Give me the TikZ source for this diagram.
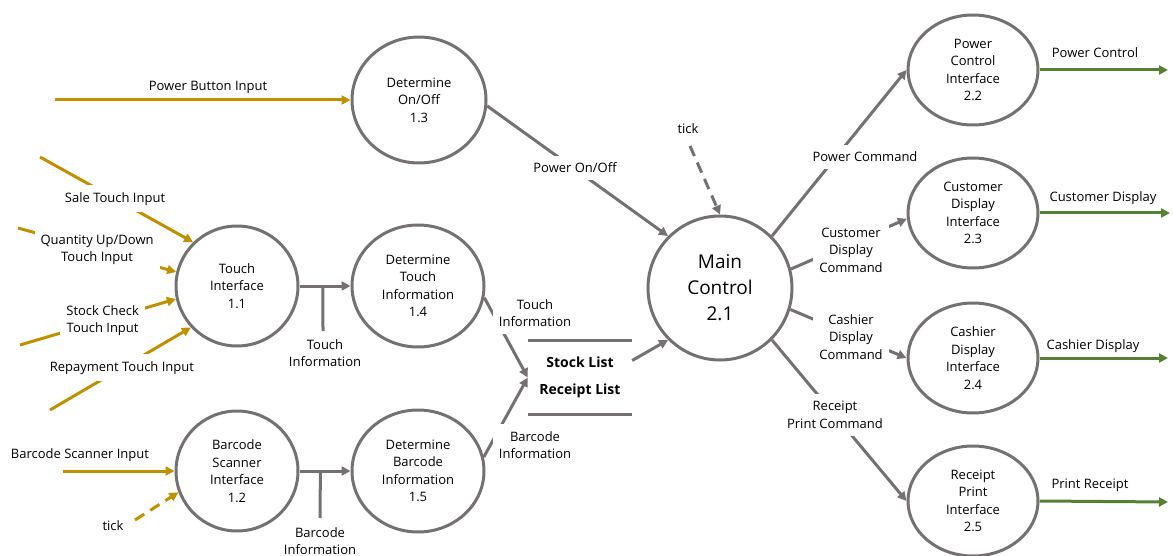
\documentclass[tikz,border=0pt]{standalone}
\usepackage{fontspec}
\setmainfont{Open Sans}
\usetikzlibrary{arrows.meta,shapes.geometric,calc}
\definecolor{flowgray}{HTML}{767171}
\definecolor{flowgold}{HTML}{BF9000}
\definecolor{flowgreen}{HTML}{548235}
\newcommand\lblfont{\fontsize{13}{17.5}\selectfont}
\newcommand\bigfont{\fontsize{19}{26}\selectfont}

\begin{document}
\begin{tikzpicture}[x=1pt,y=-1pt,
  proc/.style={ellipse, draw=flowgray, line width=3pt, fill=white,
    inner sep=0pt, align=center, font=\lblfont, text=black},
  procL/.style={proc, minimum width=122pt, minimum height=120pt},
  procM/.style={proc, minimum width=132pt, minimum height=122pt},
  procR/.style={proc, minimum width=130pt, minimum height=110pt},
  lbl/.style={align=center, font=\lblfont, inner sep=1pt, text=black},
  mask/.style={lbl, fill=white, inner xsep=6pt, inner ysep=7pt},
  tip/.style={-{Triangle[length=9pt,width=9pt]}},
  goldflow/.style={draw=flowgold, line width=3pt, tip},
  grayflow/.style={draw=flowgray, line width=3pt, tip},
  grayline/.style={draw=flowgray, line width=3pt},
  greenflow/.style={draw=flowgreen, line width=3pt, tip},
  tickflow/.style={dash pattern=on 11pt off 7pt}
]
\useasboundingbox (0,0) rectangle (1173,556);

% processes
\node[proc, minimum width=134pt, minimum height=126pt] (p13) at (419,100) {Determine\\On/Off\\1.3};
\node[procL] (p11) at (237,286) {Touch\\Interface\\1.1};
\node[procM] (p14) at (418,286) {Determine\\Touch\\Information\\1.4};
\node[procL] (p12) at (237,471) {Barcode\\Scanner\\Interface\\1.2};
\node[procM] (p15) at (418,471) {Determine\\Barcode\\Information\\1.5};
\node[proc, minimum width=144pt, minimum height=144pt, font=\bigfont] (p21) at (720,288) {Main\\Control\\2.1};
\node[procR] (p22) at (973,70) {Power\\Control\\Interface\\2.2};
\node[procR] (p23) at (973,213) {Customer\\Display\\Interface\\2.3};
\node[procR] (p24) at (973,358) {Cashier\\Display\\Interface\\2.4};
\node[procR] (p25) at (973,501) {Receipt\\Print\\Interface\\2.5};

% data store
\node[align=center, inner sep=0pt, minimum width=104pt, minimum height=73pt,
      font=\fontsize{14}{27}\selectfont\bfseries] (store) at (580,377.5)
      {Stock List\\Receipt List};
\draw[grayline] (store.north west) -- (store.north east);
\draw[grayline] (store.south west) -- (store.south east);

% external inputs
\coordinate (pbi) at (55,100);
\coordinate (sti) at (40,157);
\coordinate (qti) at (18,228);
\coordinate (cti) at (20,345);
\coordinate (rti) at (50,410);
\coordinate (bsi) at (63,471);
\coordinate (tk1) at (135,520);

\draw[goldflow] (pbi) -- (p13.west);
\node[lbl] at (208,87) {Power Button Input};

\draw[goldflow] (sti) -- (p11.135) node[mask, pos=0.49] {Sale Touch Input};
\draw[goldflow] (qti) -- (p11.167) node[mask, pos=0.5] {Quantity Up/Down\\Touch Input};
\draw[goldflow] (cti) -- (p11.192) node[mask, pos=0.53] {Stock Check\\Touch Input};
\draw[goldflow] (rti) -- (p11.222) node[mask, pos=0.51] {Repayment Touch Input};

\draw[goldflow] (bsi) -- (p12.west);
\node[lbl] at (80,455) {Barcode Scanner Input};
\draw[goldflow, tickflow] (tk1) -- (p12.200);
\node[lbl] at (113,526) {tick};

% touch and barcode information
\draw[grayflow] (p11.east) -- (p14.west) coordinate[pos=0.46] (tj1);
\coordinate (tb1) at (323,331);
\draw[grayline] (tj1) -- (tb1);
\node[lbl] at (325,353) {Touch\\Information};

\draw[grayflow] (p12.east) -- (p15.west) coordinate[pos=0.41] (bj1);
\coordinate (bb1) at (320,518);
\draw[grayline] (bj1) -- (bb1);
\node[lbl] at (320,541) {Barcode\\Information};

\draw[grayflow] (p14.350) -- (store.west);
\node[mask] at (535,313) {Touch\\Information};
\draw[grayflow] (p15.12) -- (store.west);
\node[mask] at (535,445) {Barcode\\Information};

% into main control
\draw[grayflow] ($(store.east)+(0,-17)$) -- (p21.225);
\draw[grayflow] (p13.-5) -- (p21.135);
\node[mask] at (575,168) {Power On/Off};
\coordinate (tk2) at (690,146);
\draw[grayflow, tickflow] (tk2) -- (p21.north);
\node[lbl] at (688,129) {tick};

% commands
\draw[grayflow] (p21.45) -- (p22.west);
\node[mask] at (865,157) {Power Command};
\draw[grayflow] (p21.15) -- (p23.185);
\node[mask] at (851,250) {Customer\\Display\\Command};
\draw[grayflow] (p21.-17) -- (p24.west);
\node[mask] at (851,337) {Cashier\\Display\\Command};
\draw[grayflow] (p21.-45) -- (p25.west);
\node[mask] at (835,415) {Receipt\\Print Command};

% external outputs
\coordinate (o22) at (1168,70);
\coordinate (o23) at (1170,213);
\coordinate (o24) at (1168,358);
\coordinate (o25) at (1168,502);
\draw[greenflow] (p22.east) -- (o22);
\node[lbl] at (1095,53) {Power Control};
\draw[greenflow] (p23.east) -- (o23);
\node[lbl] at (1103,198) {Customer Display};
\draw[greenflow] (p24.east) -- (o24);
\node[lbl] at (1093,346) {Cashier Display};
\draw[greenflow] (p25.east) -- (o25);
\node[lbl] at (1090,485) {Print Receipt};
\end{tikzpicture}
\end{document}
